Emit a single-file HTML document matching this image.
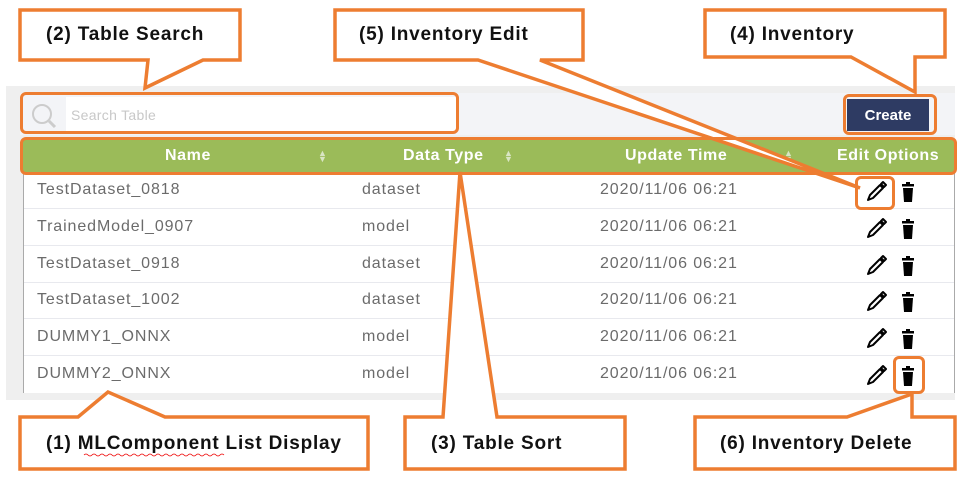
<!DOCTYPE html>
<html><head><meta charset="utf-8"><style>
body{margin:0;width:968px;height:479px;background:#fff;position:relative;overflow:hidden;font-family:"Liberation Sans",sans-serif}
.a{position:absolute}
.panel{left:6px;top:86px;width:949px;height:314px;background:#efefef}
.srow{left:20px;top:93px;width:935px;height:42px;background:#f3f4f7}
.sbox{left:66px;top:97px;width:390px;height:34px;background:#fff;color:#c8c8c8;font-size:14px;line-height:36px;padding-left:5px;box-sizing:border-box;letter-spacing:0.3px}
.hdr{left:22px;top:139px;width:933px;height:33px;background:#9bbb59;color:#fff;font-weight:bold;font-size:16px;letter-spacing:0.6px}
.hdr span{position:absolute;top:8px}
.arr{color:#d9e5c4;font-size:9px;line-height:6px}
.tbl{left:23px;top:172px;width:930px;height:221px;background:#fff;border-left:1px solid #aaa;border-right:1px solid #aaa}
.row{position:absolute;left:0;width:930px;height:36px;border-bottom:1.5px solid #e8e9ee;color:#6b6b6b;font-size:16px;letter-spacing:0.9px}
.row span{position:absolute;top:9px}
.btn{left:847px;top:99px;width:82px;height:32px;background:#2e3b63;color:#fff;font-weight:bold;font-size:15px;text-align:center;line-height:34px}
.ob{border:3.5px solid #ed7d31;border-radius:6px;box-sizing:border-box}
.lbl{position:absolute;font-weight:bold;font-size:19px;color:#111;white-space:nowrap;letter-spacing:0.8px}
</style></head><body>
<div class="a panel"></div>
<div class="a srow"></div>
<svg class="a" style="left:30px;top:102px" width="30" height="28"><circle cx="12" cy="12" r="9" fill="none" stroke="#ccc" stroke-width="2"/><line x1="19" y1="19" x2="25" y2="25" stroke="#ccc" stroke-width="3"/></svg>
<div class="a sbox">Search Table</div>
<div class="a btn">Create</div>
<div class="a hdr">
<span style="left:143px">Name</span><span class="arr" style="left:296px;top:11px">▲<br>▼</span>
<span style="left:381px">Data Type</span><span class="arr" style="left:482px;top:11px">▲<br>▼</span>
<span style="left:603px">Update Time</span><span class="arr" style="left:762px;top:11px">▲<br>▼</span>
<span style="left:815px">Edit Options</span>
</div>
<div class="a tbl">
<div class="row" style="top:0"><span style="left:13px">TestDataset_0818</span><span style="left:338px">dataset</span><span style="left:576px">2020/11/06 06:21</span></div>
<div class="row" style="top:37px"><span style="left:13px">TrainedModel_0907</span><span style="left:338px">model</span><span style="left:576px">2020/11/06 06:21</span></div>
<div class="row" style="top:74px"><span style="left:13px">TestDataset_0918</span><span style="left:338px">dataset</span><span style="left:576px">2020/11/06 06:21</span></div>
<div class="row" style="top:110px"><span style="left:13px">TestDataset_1002</span><span style="left:338px">dataset</span><span style="left:576px">2020/11/06 06:21</span></div>
<div class="row" style="top:147px"><span style="left:13px">DUMMY1_ONNX</span><span style="left:338px">model</span><span style="left:576px">2020/11/06 06:21</span></div>
<div class="row" style="top:184px;border-bottom:none"><span style="left:13px">DUMMY2_ONNX</span><span style="left:338px">model</span><span style="left:576px">2020/11/06 06:21</span></div>
</div>
<svg class="a" style="left:0;top:0" width="968" height="479">
<defs>
<g id="ic">
<path d="M-9 8 L-7 3 L3 -7 L6 -4 L-4 6 Z M4 -8 L6 -10 L9 -7 L7 -5 Z" fill="none" stroke="#000" stroke-width="2" stroke-linejoin="round"/>
<rect x="25" y="-8" width="12" height="2.5" fill="#000"/><rect x="29" y="-10" width="4" height="2" fill="#000"/>
<path d="M26 -4 H36 L35 10 H27 Z" fill="#000"/>
</g>
</defs>
<use href="#ic" x="877" y="192"/><use href="#ic" x="877" y="229"/><use href="#ic" x="877" y="266"/>
<use href="#ic" x="877" y="302"/><use href="#ic" x="877" y="339"/><use href="#ic" x="877" y="376"/>
<g fill="#fff" stroke="#ed7d31" stroke-width="3.5" stroke-linejoin="miter">
<path d="M20 10 H240 V60 H203 L145 88 L148 60 H20 Z"/>
<path d="M335 10 H583 V60 H540 L860 188 L478 60 H335 Z"/>
<path d="M705 10 H945 V57 H915 V92 L851 57 H705 Z"/>
<path d="M20 417 H78 L108 392 L165 417 H368 V469 H20 Z"/>
<path d="M405 417 H443 L460 172 L497 417 H625 V469 H405 Z"/>
<path d="M695 417 H847 L912 394 V417 H955 V469 H695 Z"/>
</g>
<path d="M84 455 q2 -2 4 0 t4 0 t4 0 t4 0 t4 0 t4 0 t4 0 t4 0 t4 0 t4 0 t4 0 t4 0 t4 0 t4 0 t4 0 t4 0 t4 0 t4 0 t4 0 t4 0 t4 0 t4 0 t4 0 t4 0 t4 0 t4 0 t4 0 t4 0 t4 0 t4 0 t4 0 t4 0 t4 0 t4 0 t4 0" fill="none" stroke="#e00" stroke-width="0.8"/>
</svg>
<div class="a ob" style="left:20px;top:92px;width:439px;height:42px"></div>
<div class="a ob" style="left:20px;top:137px;width:937px;height:38px"></div>
<div class="a ob" style="left:843px;top:94px;width:94px;height:41px"></div>
<div class="a ob" style="left:855px;top:176px;width:40px;height:34px"></div>
<div class="a ob" style="left:893px;top:356px;width:32px;height:38px"></div>
<div class="lbl" style="left:46px;top:24px">(2) Table Search</div>
<div class="lbl" style="left:359px;top:24px">(5) Inventory Edit</div>
<div class="lbl" style="left:730px;top:24px">(4) Inventory</div>
<div class="lbl" style="left:46px;top:433px">(1) MLComponent List Display</div>
<div class="lbl" style="left:431px;top:433px">(3) Table Sort</div>
<div class="lbl" style="left:720px;top:433px">(6) Inventory Delete</div>
</body></html>
